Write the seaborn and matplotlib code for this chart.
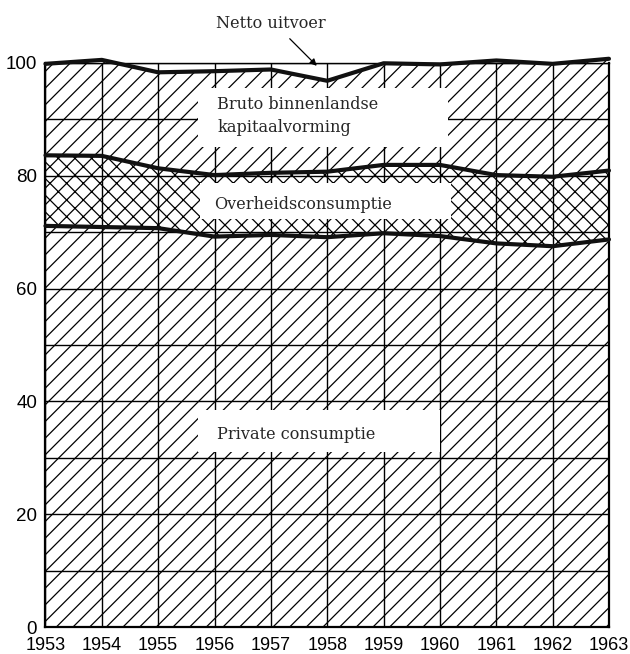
import matplotlib
matplotlib.use("Agg")
import matplotlib.pyplot as plt
from matplotlib.patches import Rectangle
import numpy as np
import pandas as pd
import seaborn as sns

# ---- data (shares of national expenditure, %) ----
years = [1953, 1954, 1955, 1956, 1957, 1958, 1959, 1960, 1961, 1962, 1963]
private_consumption = [71.1, 70.9, 70.7, 69.2, 69.5, 69.1, 69.8, 69.3, 68.0, 67.5, 68.7]
government_consumption = [12.5, 12.6, 10.6, 10.9, 11.0, 11.6, 12.1, 12.6, 12.1, 12.3, 12.2]
capital_formation = [16.2, 17.0, 17.0, 18.4, 18.3, 16.1, 18.0, 17.8, 20.3, 20.0, 19.8]
net_exports = [0.2, -0.5, 1.7, 1.5, 1.2, 3.2, 0.1, 0.3, -0.4, 0.2, -0.7]

y_ticks = [0, 10, 20, 30, 40, 50, 60, 70, 80, 90, 100]
y_tick_labels = ["0", "", "20", "", "40", "", "60", "", "80", "", "100"]
x_tick_labels = [str(y) for y in years]

label_private = "Private consumptie"
label_government = "Overheidsconsumptie"
label_capital = "Bruto binnenlandse\nkapitaalvorming"
label_netexp = "Netto uitvoer"

# ---- style ----
sns.set_style("white")
plt.rcParams["font.family"] = ["Liberation Sans", "DejaVu Sans"]
plt.rcParams["hatch.linewidth"] = 0.9
plt.rcParams["hatch.color"] = "black"

yrs = np.array(years, dtype=float)
p = np.array(private_consumption)
g = p + np.array(government_consumption)
t = g + np.array(capital_formation)  # domestic total = 100 - net exports

fig = plt.figure(figsize=(6.3, 6.54), dpi=100)
ax = fig.add_axes([0.0722, 0.0408, 0.8944, 0.8633])

# hatched stacked areas
ax.fill_between(yrs, 0, p, facecolor="white", edgecolor="black", hatch="//",
                linewidth=0, zorder=1)
ax.fill_between(yrs, p, g, facecolor="white", edgecolor="black", hatch="xx",
                linewidth=0, zorder=1)
ax.fill_between(yrs, g, t, facecolor="white", edgecolor="black", hatch="//",
                linewidth=0, zorder=1, clip_on=False)

# grid above the fills
ax.set_axisbelow(False)
ax.grid(True, color="black", linewidth=1.0)

# white label boxes (above grid)
for (x0, x1, y0, y1) in [(1955.70, 1960.15, 85.0, 95.6),
                         (1955.75, 1960.20, 72.4, 78.7),
                         (1955.70, 1960.00, 31.0, 38.5)]:
    ax.add_patch(Rectangle((x0, y0), x1 - x0, y1 - y0, facecolor="white",
                           edgecolor="none", zorder=2.8))

# thick boundary lines via seaborn
df = pd.DataFrame({
    "year": np.concatenate([yrs, yrs, yrs]),
    "value": np.concatenate([p, g, t]),
    "boundary": ["private"] * len(yrs) + ["government"] * len(yrs) + ["total"] * len(yrs),
})
sns.lineplot(data=df, x="year", y="value", hue="boundary", units="boundary",
             estimator=None, palette=["#111111"] * 3, linewidth=3.0,
             legend=False, ax=ax, zorder=3, clip_on=False)

serif = ["DejaVu Serif"]
fs = 11.6
ax.text(1956.05, 90.6, label_capital, family=serif, fontsize=fs,
        ha="left", va="center", linespacing=1.45, zorder=4)
ax.text(1956.0, 74.9, label_government, family=serif, fontsize=fs,
        ha="left", va="center", zorder=4)
ax.text(1956.05, 34.1, label_private, family=serif, fontsize=fs,
        ha="left", va="center", zorder=4)
ax.text(1957.0, 107.0, label_netexp, family=serif, fontsize=fs,
        ha="center", va="center", zorder=4)
ax.annotate("", xy=(1957.85, 99.1), xytext=(1957.3, 104.6),
            arrowprops=dict(arrowstyle="-|>", color="black", lw=0.9,
                            mutation_scale=10), annotation_clip=False)

ax.set_xlim(1953, 1963)
ax.set_ylim(0, 100)
ax.set_xticks(years)
ax.set_xticklabels(x_tick_labels)
ax.set_yticks(y_ticks)
ax.set_yticklabels(y_tick_labels)
ax.tick_params(axis="x", length=0, pad=7, labelsize=13, colors="black")
ax.tick_params(axis="y", length=0, pad=6, labelsize=13.5, colors="black")
ax.set_xlabel("")
ax.set_ylabel("")

for side in ["left", "right", "bottom"]:
    ax.spines[side].set_visible(True)
    ax.spines[side].set_color("black")
    ax.spines[side].set_linewidth(1.6)
ax.spines["top"].set_visible(True)
ax.spines["top"].set_color("black")
ax.spines["top"].set_linewidth(1.0)

fig.savefig("out.png", dpi=100, facecolor="white")
